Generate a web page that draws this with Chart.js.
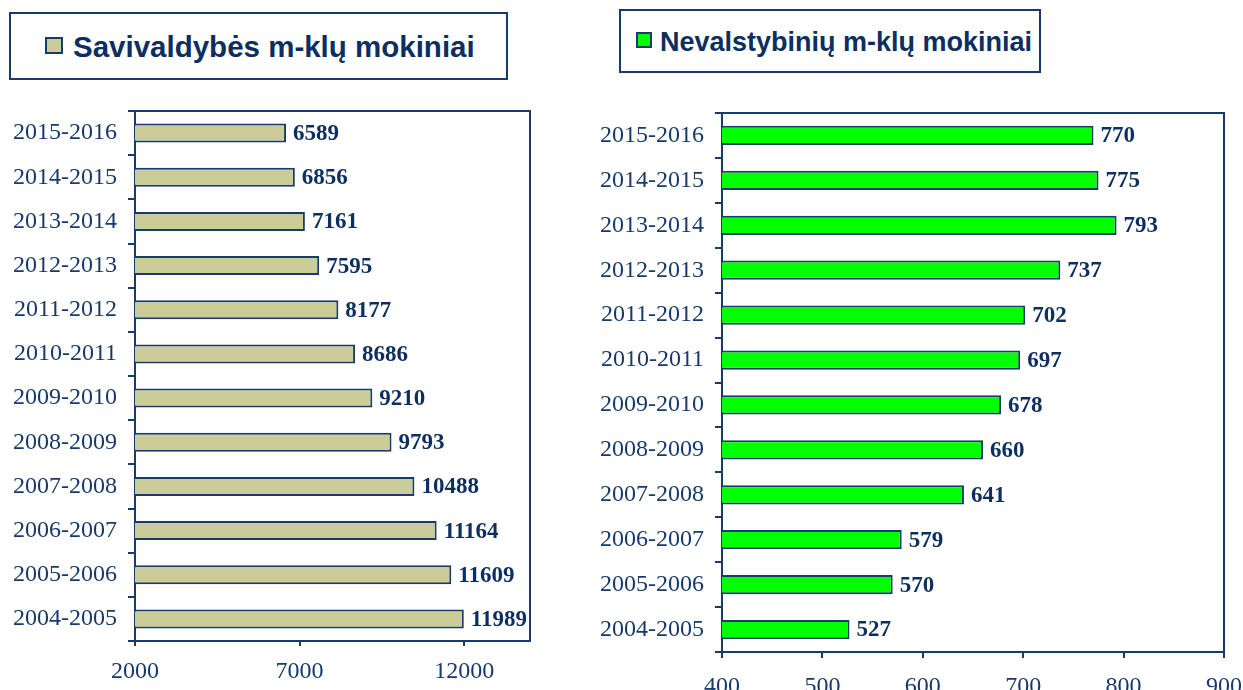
<!DOCTYPE html>
<html>
<head>
<meta charset="utf-8">
<script src="https://cdn.jsdelivr.net/npm/chart.js@4/dist/chart.umd.min.js"></script>
<style>
  html, body { margin:0; padding:0; background:#fff; width:1243px; height:690px; overflow:hidden; }
  .wrap { position:absolute; }
  .legendBox { position:absolute; border:2px solid #173b6b; background:#fff; box-sizing:border-box; }
  .sq { position:absolute; border:2px solid #173b6b; box-sizing:border-box; }
  .ttl { position:absolute; font-family:'Liberation Sans', Arial, sans-serif; font-weight:bold; color:#0c2f5f; white-space:nowrap; line-height:1; }
</style>
</head>
<body>
<div class="wrap" id="leftWrap" style="left:0;top:0;width:560px;height:690px;"><canvas id="leftChart"></canvas></div>
<div class="wrap" id="rightWrap" style="left:580px;top:0;width:663px;height:690px;"><canvas id="rightChart"></canvas></div>

<div class="legendBox" style="left:9px;top:12px;width:499px;height:68px;">
  <div class="sq" id="sqL" style="left:34px;top:23px;width:18px;height:17px;"></div>
  <div class="ttl" id="ttlL" style="left:62px;top:18px;font-size:29.5px;"></div>
</div>
<div class="legendBox" style="left:619px;top:9px;width:422px;height:64px;">
  <div class="sq" id="sqR" style="left:15px;top:21px;width:16px;height:16px;"></div>
  <div class="ttl" id="ttlR" style="left:39px;top:18px;font-size:27px;"></div>
</div>

<script>
// ---- data ----
const categories = ['2015-2016','2014-2015','2013-2014','2012-2013','2011-2012','2010-2011','2009-2010','2008-2009','2007-2008','2006-2007','2005-2006','2004-2005'];
const savivaldybiuValues = [6589, 6856, 7161, 7595, 8177, 8686, 9210, 9793, 10488, 11164, 11609, 11989];
const nevalstybiniuValues = [770, 775, 793, 737, 702, 697, 678, 660, 641, 579, 570, 527];
const leftTicks = [2000, 7000, 12000];
const rightTicks = [400, 500, 600, 700, 800, 900];
const leftTitle = 'Savivaldybės m-klų mokiniai';
const rightTitle = 'Nevalstybinių m-klų mokiniai';

const NAVY = '#173b6b';
const TEXT = '#173a6b';
const LABEL = '#0c2f5f';
const TAN = '#cccc99';
const GREEN = '#00ff00';

document.getElementById('ttlL').textContent = leftTitle;
document.getElementById('ttlR').textContent = rightTitle;
document.getElementById('sqL').style.background = TAN;
document.getElementById('sqR').style.background = GREEN;

const SERIF = "'Liberation Serif', 'Times New Roman', serif";

const framePlugin = {
  id: 'frame',
  afterDatasetsDraw(chart) {
    const {ctx, chartArea: a} = chart;
    ctx.save();
    ctx.strokeStyle = NAVY;
    ctx.lineWidth = 2;
    ctx.beginPath();
    ctx.moveTo(a.left, a.top); ctx.lineTo(a.right, a.top); ctx.lineTo(a.right, a.bottom);
    ctx.stroke();
    ctx.restore();
  }
};

const valueLabels = {
  id: 'valueLabels',
  afterDatasetsDraw(chart) {
    const {ctx} = chart;
    const ds = chart.data.datasets[0];
    const meta = chart.getDatasetMeta(0);
    ctx.save();
    ctx.font = 'bold 23px ' + SERIF;
    ctx.fillStyle = LABEL;
    ctx.textAlign = 'left';
    ctx.textBaseline = 'middle';
    meta.data.forEach((bar, i) => {
      ctx.fillText(String(ds.data[i]), bar.x + 7, bar.y + 1);
    });
    ctx.restore();
  }
};

function makeChart(id, values, color, min, max, ticks, yWidth, xHeight, padding, xTickLen, xPad) {
  return new Chart(document.getElementById(id), {
    type: 'bar',
    data: {
      labels: categories,
      datasets: [{
        data: values,
        backgroundColor: color,
        borderColor: NAVY,
        borderWidth: 2,
        borderSkipped: false,
        barPercentage: 0.43,
        categoryPercentage: 1.0
      }]
    },
    options: {
      indexAxis: 'y',
      responsive: true,
      maintainAspectRatio: false,
      animation: false,
      layout: { padding: padding },
      plugins: { legend: { display: false }, tooltip: { enabled: false }, title: { display: false } },
      scales: {
        x: {
          type: 'linear',
          min: min, max: max,
          afterBuildTicks: s => { s.ticks = ticks.map(v => ({ value: v })); },
          afterFit: s => { s.height = xHeight; s.paddingLeft = 0; s.paddingRight = 0; },
          grid: { drawOnChartArea: false, drawTicks: true, tickLength: xTickLen, color: NAVY, lineWidth: 2 },
          border: { color: NAVY, width: 2 },
          ticks: { font: { family: SERIF, size: 24 }, color: TEXT, padding: xPad, maxRotation: 0, autoSkip: false,
                   callback: v => String(v) }
        },
        y: {
          type: 'category',
          afterFit: s => { s.width = yWidth; },
          grid: { drawOnChartArea: false, drawTicks: true, tickLength: 7, color: NAVY, lineWidth: 2, offset: true },
          border: { color: NAVY, width: 2 },
          ticks: { font: { family: SERIF, size: 24 }, color: TEXT, padding: 11, autoSkip: false }
        }
      }
    },
    plugins: [framePlugin, valueLabels]
  });
}

makeChart('leftChart', savivaldybiuValues, TAN, 2000, 14000, leftTicks, 135, 49, { top: 111, right: 30, left: 0, bottom: 0 }, 5, 11);
makeChart('rightChart', nevalstybiniuValues, GREEN, 400, 900, rightTicks, 142, 38, { top: 113, right: 19, left: 0, bottom: 0 }, 6, 14);
</script>
</body>
</html>
